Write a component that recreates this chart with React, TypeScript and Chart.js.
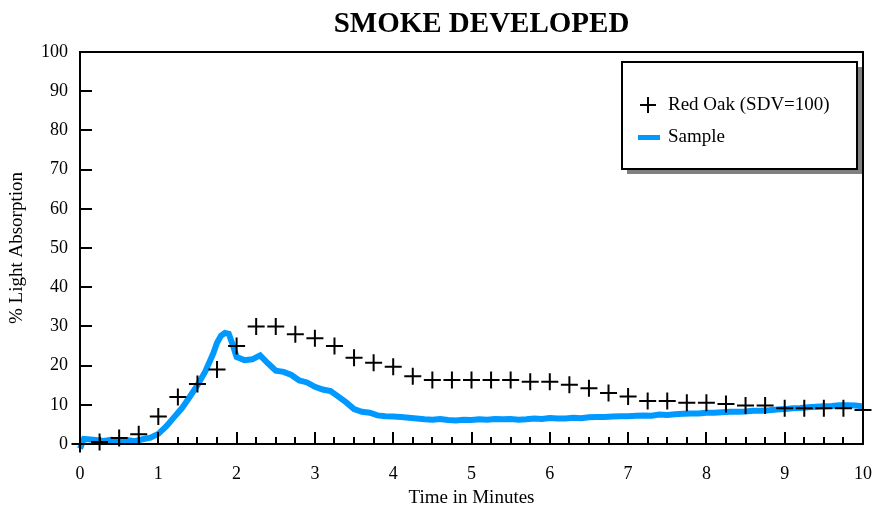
import React, { useEffect, useRef } from "react";
import { Chart, registerables } from "chart.js";

Chart.register(...registerables);

const chartTitle = "SMOKE DEVELOPED";
const xTitle = "Time in Minutes";
const yTitle = "% Light Absorption";
const redOakLabel = "Red Oak (SDV=100)";
const sampleLabel = "Sample";

const redOakTimes = [
  0, 0.25, 0.5, 0.75, 1, 1.25, 1.5, 1.75, 2, 2.25, 2.5, 2.75, 3, 3.25, 3.5, 3.75, 4, 4.25, 4.5, 4.75,
  5, 5.25, 5.5, 5.75, 6, 6.25, 6.5, 6.75, 7, 7.25, 7.5, 7.75, 8, 8.25, 8.5, 8.75, 9, 9.25, 9.5, 9.75, 10,
];
const redOakValues = [
  0, 0.5, 1.5, 2.5, 7, 12, 15.3, 19, 25, 30, 30, 28, 27, 25, 22, 20.7, 19.7, 17.3, 16.3, 16.3,
  16.3, 16.3, 16.3, 15.9, 15.9, 15.1, 14.2, 13, 12.1, 11, 11, 10.5, 10.5, 10.2, 9.8, 9.8, 9.1, 9.1, 9.1, 9.1, 8.7,
];

const sampleTimes = [
  0, 0.05, 0.1, 0.2, 0.3, 0.4, 0.5, 0.6, 0.7, 0.8, 0.9, 1.0, 1.1, 1.2, 1.3, 1.4, 1.5, 1.6, 1.7, 1.75,
  1.8, 1.85, 1.9, 1.95, 2.0, 2.1, 2.2, 2.3, 2.4, 2.5, 2.6, 2.7, 2.8, 2.9, 3.0, 3.1, 3.2, 3.3, 3.4, 3.5,
  3.6, 3.7, 3.8, 3.9, 4.0, 4.1, 4.2, 4.3, 4.4, 4.5, 4.6, 4.7, 4.8, 4.9, 5.0, 5.1, 5.2, 5.3, 5.4, 5.5,
  5.6, 5.7, 5.8, 5.9, 6.0, 6.1, 6.2, 6.3, 6.4, 6.5, 6.6, 6.7, 6.8, 6.9, 7.0, 7.1, 7.2, 7.3, 7.4, 7.5,
  7.6, 7.7, 7.8, 7.9, 8.0, 8.1, 8.2, 8.3, 8.4, 8.5, 8.6, 8.7, 8.8, 8.9, 9.0, 9.1, 9.2, 9.3, 9.4, 9.5,
  9.6, 9.7, 9.8, 9.9, 10.0,
];
const sampleValues = [
  -1.2, 1.3, 1.2, 1.0, 0.8, 1.1, 0.9, 1.0, 0.7, 1.2, 1.6, 2.6, 4.5, 6.8, 9.1, 12.0, 15.0, 18.5, 23.0, 25.8,
  27.6, 28.3, 28.1, 25.3, 22.2, 21.4, 21.6, 22.6, 20.6, 18.7, 18.4, 17.6, 16.2, 15.7, 14.6, 13.9, 13.5, 12.1, 10.6, 8.9,
  8.2, 8.0, 7.3, 7.1, 7.0, 6.9, 6.7, 6.5, 6.3, 6.2, 6.4, 6.1, 6.0, 6.2, 6.1, 6.3, 6.2, 6.4, 6.3, 6.4,
  6.2, 6.3, 6.5, 6.4, 6.6, 6.5, 6.5, 6.7, 6.6, 6.8, 6.9, 6.9, 7.0, 7.1, 7.1, 7.2, 7.3, 7.2, 7.5, 7.4,
  7.6, 7.7, 7.8, 7.8, 8.0, 8.0, 8.1, 8.2, 8.2, 8.3, 8.5, 8.5, 8.6, 8.8, 8.9, 9.1, 9.2, 9.4, 9.5, 9.6,
  9.7, 9.9, 9.9, 9.8, 9.6,
];

const xMajorTicks = [0, 1, 2, 3, 4, 5, 6, 7, 8, 9, 10];
const yMajorTicks = [0, 10, 20, 30, 40, 50, 60, 70, 80, 90, 100];
const xMinorStep = 0.25;

const SERIF = "'Liberation Serif', 'Times New Roman', serif";
const BLUE = "#0099ff";

const framePlugin = {
  id: "frameTicks",
  afterDatasetsDraw(chart: any) {
    const { ctx, chartArea } = chart;
    const xs = chart.scales.x;
    const ys = chart.scales.y;
    ctx.save();
    ctx.strokeStyle = "#000";
    ctx.lineWidth = 2;
    ctx.beginPath();
    for (let v = xs.min; v <= xs.max + 1e-9; v += xMinorStep) {
      const isMajor = xMajorTicks.some((m) => Math.abs(m - v) < 1e-6);
      const px = Math.round(xs.getPixelForValue(v));
      const len = isMajor ? 12 : 7;
      ctx.moveTo(px, chartArea.bottom);
      ctx.lineTo(px, chartArea.bottom - len);
    }
    yMajorTicks.forEach((v) => {
      const py = Math.round(ys.getPixelForValue(v));
      ctx.moveTo(chartArea.left, py);
      ctx.lineTo(chartArea.left + 12, py);
    });
    ctx.stroke();
    ctx.strokeRect(chartArea.left, chartArea.top, chartArea.right - chartArea.left, chartArea.bottom - chartArea.top);
    ctx.restore();
  },
  afterDraw(chart: any) {
    const { ctx, chartArea } = chart;
    ctx.save();
    ctx.fillStyle = "#000";
    ctx.font = `bold 29px ${SERIF}`;
    ctx.textAlign = "center";
    ctx.textBaseline = "alphabetic";
    ctx.fillText(chartTitle, (chartArea.left + chartArea.right) / 2 + 10, 32);

    const bw = 235;
    const bh = 107;
    const bx = chartArea.right - 6 - bw;
    const by = chartArea.top + 10;
    ctx.fillStyle = "#808080";
    ctx.fillRect(bx + 5, by + 5, bw, bh);
    ctx.fillStyle = "#fff";
    ctx.fillRect(bx, by, bw, bh);
    ctx.strokeStyle = "#000";
    ctx.lineWidth = 2;
    ctx.strokeRect(bx, by, bw, bh);

    const ds = chart.data.datasets;
    const r1y = by + 43;
    const cx = bx + 26;
    ctx.beginPath();
    ctx.moveTo(cx - 8, r1y);
    ctx.lineTo(cx + 8, r1y);
    ctx.moveTo(cx, r1y - 8);
    ctx.lineTo(cx, r1y + 8);
    ctx.stroke();
    ctx.fillStyle = "#000";
    ctx.font = `19px ${SERIF}`;
    ctx.textAlign = "left";
    ctx.textBaseline = "middle";
    ctx.fillText(ds[0].label, bx + 46, r1y);
    const r2y = by + 75;
    ctx.fillStyle = BLUE;
    ctx.fillRect(bx + 16, r2y - 2, 22, 5);
    ctx.fillStyle = "#000";
    ctx.fillText(ds[1].label, bx + 46, r2y);
    ctx.restore();
  },
};

export default function App() {
  const ref = useRef<HTMLCanvasElement | null>(null);
  useEffect(() => {
    if (!ref.current) return;
    const chart = new Chart(ref.current, {
      type: "line",
      data: {
        datasets: [
          {
            label: redOakLabel,
            data: redOakTimes.map((t, i) => ({ x: t, y: redOakValues[i] })),
            showLine: false,
            pointStyle: "cross",
            pointRadius: 8.5,
            pointBorderWidth: 2,
            pointBorderColor: "#000",
            borderColor: "#000",
            backgroundColor: "#000",
            clip: false as any,
            order: 0,
          },
          {
            label: sampleLabel,
            data: sampleTimes.map((t, i) => ({ x: t, y: sampleValues[i] })),
            borderColor: BLUE,
            backgroundColor: BLUE,
            borderWidth: 6,
            pointRadius: 0,
            tension: 0,
            clip: false as any,
            order: 1,
          },
        ],
      },
      options: {
        responsive: false,
        animation: false,
        events: [],
        layout: { padding: { top: 52, right: 12, left: 0, bottom: 0 } },
        plugins: {
          legend: { display: false },
          tooltip: { enabled: false },
          title: { display: false },
        },
        scales: {
          x: {
            type: "linear",
            min: 0,
            max: 10,
            grid: { display: false, drawTicks: false },
            border: { display: false },
            ticks: {
              stepSize: 1,
              padding: 19,
              color: "#000",
              font: { family: SERIF, size: 18 },
              maxRotation: 0,
            },
            title: {
              display: true,
              text: xTitle,
              color: "#000",
              font: { family: SERIF, size: 19 },
              padding: 3,
            },
            afterFit: (s: any) => {
              s.height = 68;
              s.paddingLeft = 0;
              s.paddingRight = 0;
            },
          },
          y: {
            type: "linear",
            min: 0,
            max: 100,
            grid: { display: false, drawTicks: false },
            border: { display: false },
            ticks: {
              stepSize: 10,
              padding: 12,
              color: "#000",
              font: { family: SERIF, size: 18 },
            },
            title: {
              display: true,
              text: yTitle,
              color: "#000",
              font: { family: SERIF, size: 19 },
              padding: 6,
            },
            afterFit: (s: any) => {
              s.width = 80;
              s.paddingTop = 0;
              s.paddingBottom = 0;
            },
          },
        },
      },
      plugins: [framePlugin],
    });
    return () => chart.destroy();
  }, []);
  return (
    <div style={{ position: "absolute", left: 0, top: 0, width: 875, height: 512, background: "#fff" }}>
      <canvas ref={ref} width={875} height={512} />
    </div>
  );
}
